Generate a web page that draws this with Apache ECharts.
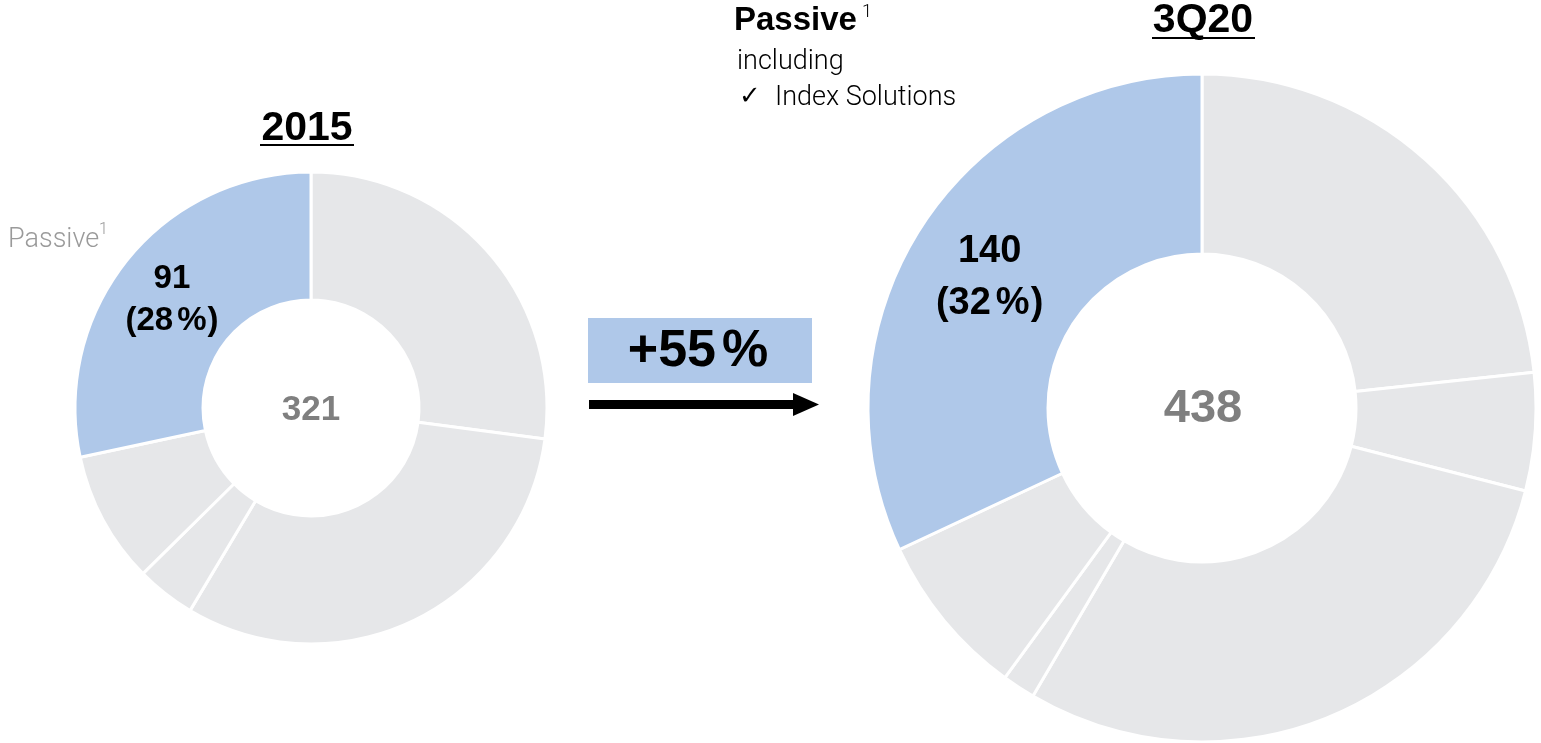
<!DOCTYPE html>
<html>
<head>
<meta charset="utf-8">
<script src="https://cdn.jsdelivr.net/npm/echarts@6/dist/echarts.min.js"></script>
<style>
  html, body { margin: 0; padding: 0; background: #fff; }
  #main { width: 1541px; height: 743px; }
</style>
</head>
<body>
<div id="main"></div>
<script>
// ---- Data ----
const categories2015 = ['Segment A', 'Segment B', 'Segment C', 'Segment D', 'Passive'];
const values2015 = [87, 101, 13, 29, 91];
const categories3Q20 = ['Segment A', 'Segment B', 'Segment C', 'Segment D', 'Segment E', 'Passive'];
const values3Q20 = [102, 25, 129, 7, 35, 140];
const titles = ['2015', '3Q20'];
const totals = ['321', '438'];
const growthNumber = '+55';

const BLUE = '#AFC8E9';
const GREY = '#E6E7E9';
const BOLD = '"Liberation Sans", Arial, sans-serif';
const LIGHT = 'Roboto, "Liberation Sans", sans-serif';

function buildData(cats, vals) {
  return cats.map((c, i) => {
    const isPassive = c === 'Passive';
    return {
      name: c,
      value: vals[i],
      itemStyle: { color: isPassive ? BLUE : GREY },
      label: { show: isPassive }
    };
  });
}

function makeLabel(size, lh, gap, offset) {
  const base = { fontFamily: BOLD, fontWeight: 'bold', fontSize: size, color: '#000', lineHeight: lh };
  return {
    position: 'inside',
    offset: offset,
    formatter: p => '{v|' + p.value + '}\n{v|(' + Math.round(p.percent) + '}{p|%}{v|)}',
    rich: {
      v: base,
      p: Object.assign({}, base, { padding: [0, 1, 0, gap] })
    }
  };
}

const chart = echarts.init(document.getElementById('main'));

chart.setOption({
  animation: false,
  series: [
    {
      type: 'pie',
      center: [311, 408],
      radius: [108, 236],
      startAngle: 90,
      clockwise: true,
      silent: true,
      itemStyle: { borderColor: '#fff', borderWidth: 3 },
      label: makeLabel(33, 42, 4, [-3, 2]),
      labelLine: { show: false },
      data: buildData(categories2015, values2015)
    },
    {
      type: 'pie',
      center: [1202, 408],
      radius: [154, 334],
      startAngle: 90,
      clockwise: true,
      silent: true,
      itemStyle: { borderColor: '#fff', borderWidth: 3 },
      label: makeLabel(38, 52, 5, [-4, 2]),
      labelLine: { show: false },
      data: buildData(categories3Q20, values3Q20)
    }
  ],
  graphic: [
    // Titles
    { type: 'text', x: 307, y: 129, style: { text: titles[0], font: 'bold 41px ' + BOLD, fill: '#000', align: 'center', verticalAlign: 'middle' } },
    { type: 'line', shape: { x1: 260, y1: 145, x2: 354, y2: 145 }, style: { stroke: '#000', lineWidth: 2 } },
    { type: 'text', x: 1203, y: 21, style: { text: titles[1], font: 'bold 41px ' + BOLD, fill: '#000', align: 'center', verticalAlign: 'middle' } },
    { type: 'line', shape: { x1: 1152, y1: 38, x2: 1255, y2: 38 }, style: { stroke: '#000', lineWidth: 2 } },
    // Totals
    { type: 'text', x: 311, y: 410, style: { text: totals[0], font: 'bold 35px ' + BOLD, fill: '#7f7f7f', align: 'center', verticalAlign: 'middle' } },
    { type: 'text', x: 1203, y: 409, style: { text: totals[1], font: 'bold 47px ' + BOLD, fill: '#7f7f7f', align: 'center', verticalAlign: 'middle' } },
    // Left passive label
    { type: 'text', x: 8, y: 240, style: { text: 'Passive', font: '300 27px ' + LIGHT, fill: '#9a9a9a', align: 'left', verticalAlign: 'middle' } },
    { type: 'text', x: 99, y: 230, style: { text: '1', font: '300 16px ' + LIGHT, fill: '#9a9a9a', align: 'left', verticalAlign: 'middle' } },
    // Top passive legend
    { type: 'text', x: 734, y: 21, style: { text: 'Passive', font: 'bold 33px ' + BOLD, fill: '#000', align: 'left', verticalAlign: 'middle' } },
    { type: 'text', x: 862, y: 12, style: { text: '1', font: '300 18px ' + LIGHT, fill: '#000', align: 'left', verticalAlign: 'middle' } },
    { type: 'text', x: 737, y: 62, style: { text: 'including', font: '300 27px ' + LIGHT, fill: '#000', align: 'left', verticalAlign: 'middle' } },
    { type: 'text', x: 739, y: 97, style: { text: '\u2713', font: '26px "DejaVu Sans", sans-serif', fill: '#000', align: 'left', verticalAlign: 'middle' } },
    { type: 'text', x: 775, y: 98, style: { text: 'Index Solutions', font: '300 27px ' + LIGHT, fill: '#000', align: 'left', verticalAlign: 'middle' } },
    // Growth box
    { type: 'rect', shape: { x: 588, y: 318, width: 224, height: 65 }, style: { fill: BLUE } },
    {
      type: 'text', x: 698, y: 352,
      style: {
        text: '{n|' + growthNumber + '}{p|%}',
        align: 'center', verticalAlign: 'middle',
        rich: {
          n: { font: 'bold 52px ' + BOLD, fill: '#000' },
          p: { font: 'bold 52px ' + BOLD, fill: '#000', padding: [0, 0, 0, 6] }
        }
      }
    },
    // Arrow
    { type: 'rect', shape: { x: 589, y: 400, width: 206, height: 9 }, style: { fill: '#000' } },
    { type: 'polygon', shape: { points: [[793, 393], [819, 404.5], [793, 416]] }, style: { fill: '#000' } }
  ]
});
</script>
</body>
</html>
